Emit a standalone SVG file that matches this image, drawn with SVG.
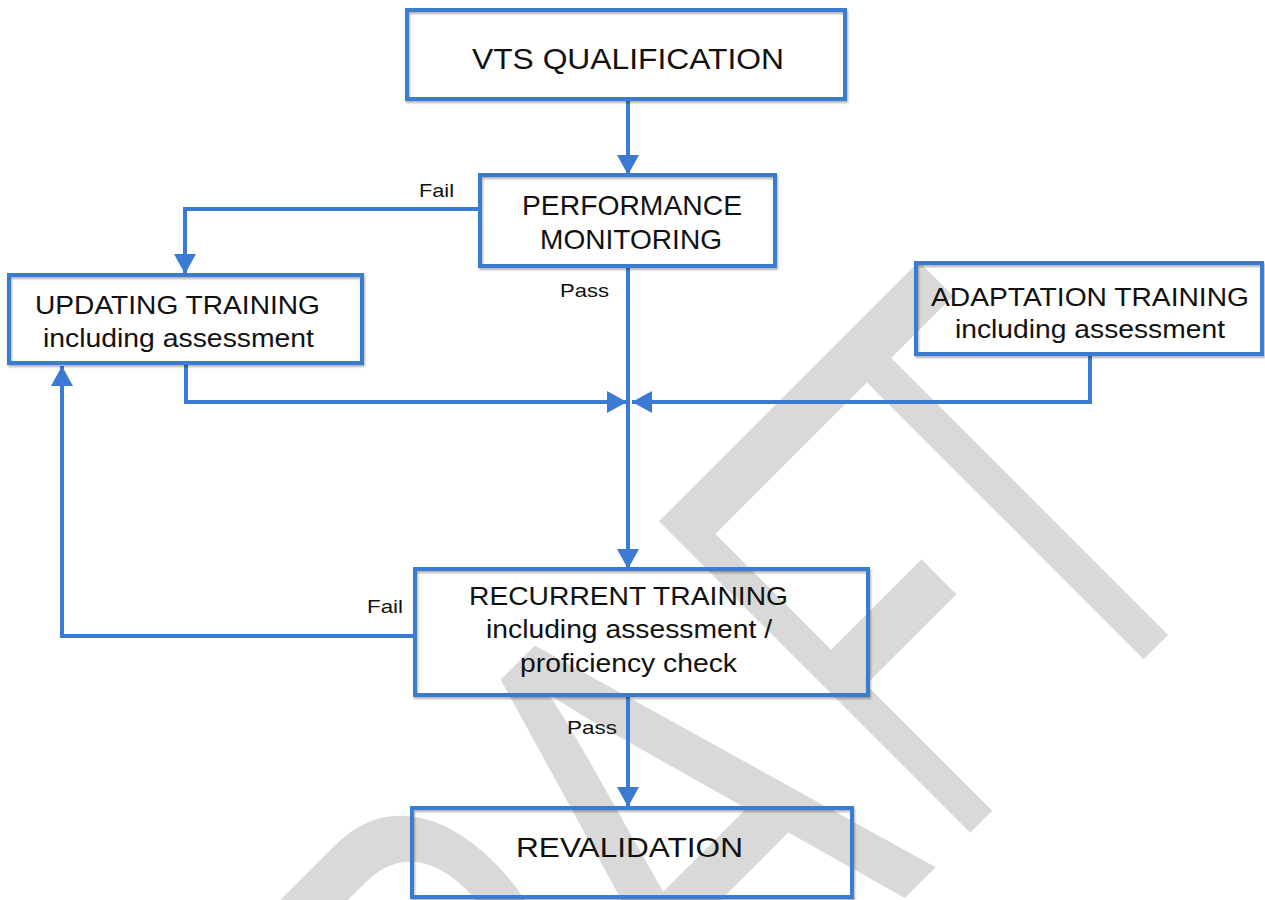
<svg xmlns="http://www.w3.org/2000/svg" width="1265" height="900" viewBox="0 0 1265 900">
<style>
.box{fill:none;stroke:#3b7bd3;stroke-width:4;filter:url(#sh)}
.con{fill:none;stroke:#3b7bd3;stroke-width:4;marker-end:url(#ah)}
.t{font-family:"Liberation Sans",Arial,sans-serif;fill:#111;text-anchor:middle}
.lbl{font-family:"Liberation Sans",Arial,sans-serif;fill:#111;text-anchor:middle;font-size:19px}
.wm{font-family:"Liberation Sans",Arial,sans-serif;fill:#d9d9d9;font-size:640px}
</style>
<defs>
<marker id="ah" viewBox="0 0 20 22" refX="20" refY="11" markerWidth="20" markerHeight="22" orient="auto" markerUnits="userSpaceOnUse">
<path d="M0,0 L20,11 L0,22 Z" fill="#3b7bd3"/>
</marker>
<filter id="sh" x="-5%" y="-5%" width="110%" height="120%">
<feDropShadow dx="1" dy="2" stdDeviation="1.2" flood-color="#000" flood-opacity="0.3"/>
</filter>
</defs>
<rect width="1265" height="900" fill="#fff"/>
<g id="watermark">
<text class="wm" transform="translate(314.6,1488.4) rotate(-45) scale(0.65,1)">D</text>
<text class="wm" transform="translate(526.7,1276.3) rotate(-45) scale(0.65,1)">R</text>
<text class="wm" transform="translate(720.5,1082.5) rotate(-45) scale(0.715,1)">A</text>
<text class="wm" transform="translate(951,852) rotate(-45) scale(0.52,1)">F</text>
<text class="wm" transform="translate(1075.8,727.2) rotate(-45) scale(0.58,1)">T</text>
</g>
<g id="connectors">
<path class="con" d="M628,100 V175"/>
<path class="con" d="M480,209 H185 V274"/>
<path class="con" d="M628,266 V569"/>
<path class="con" d="M186,363 V402 H627"/>
<path class="con" d="M1090,354 V402 H632"/>
<path class="con" d="M415,636 H62 V366"/>
<path class="con" d="M628,695 V807"/>
<text class="lbl" x="436.5" y="197" textLength="35" lengthAdjust="spacingAndGlyphs">Fail</text>
<text class="lbl" x="584.5" y="297" textLength="49" lengthAdjust="spacingAndGlyphs">Pass</text>
<text class="lbl" x="385" y="613" textLength="36" lengthAdjust="spacingAndGlyphs">Fail</text>
<text class="lbl" x="592" y="734" textLength="50" lengthAdjust="spacingAndGlyphs">Pass</text>
</g>
<g id="vts">
<rect class="box" x="407" y="10" width="438" height="89"/>
<text class="t" x="628" y="69" font-size="30" textLength="312" lengthAdjust="spacingAndGlyphs">VTS QUALIFICATION</text>
</g>
<g id="performance">
<rect class="box" x="480" y="175" width="295" height="91"/>
<text class="t" x="632" y="215" font-size="28" textLength="220" lengthAdjust="spacingAndGlyphs">PERFORMANCE</text>
<text class="t" x="631" y="249" font-size="28" textLength="182" lengthAdjust="spacingAndGlyphs">MONITORING</text>
</g>
<g id="updating">
<rect class="box" x="9" y="275" width="353" height="88"/>
<text class="t" x="177.5" y="314" font-size="25" textLength="285" lengthAdjust="spacingAndGlyphs">UPDATING TRAINING</text>
<text class="t" x="178.5" y="347" font-size="25" textLength="271" lengthAdjust="spacingAndGlyphs">including assessment</text>
</g>
<g id="adaptation">
<rect class="box" x="916" y="263" width="346" height="91"/>
<text class="t" x="1090" y="306" font-size="26" textLength="318" lengthAdjust="spacingAndGlyphs">ADAPTATION TRAINING</text>
<text class="t" x="1090" y="338" font-size="26" textLength="270" lengthAdjust="spacingAndGlyphs">including assessment</text>
</g>
<g id="recurrent">
<rect class="box" x="415" y="569" width="453" height="126"/>
<text class="t" x="628.5" y="605" font-size="25" textLength="319" lengthAdjust="spacingAndGlyphs">RECURRENT TRAINING</text>
<text class="t" x="629" y="638" font-size="25" textLength="286" lengthAdjust="spacingAndGlyphs">including assessment /</text>
<text class="t" x="628.5" y="672" font-size="25" textLength="217" lengthAdjust="spacingAndGlyphs">proficiency check</text>
</g>
<g id="revalidation">
<rect class="box" x="412" y="808" width="440" height="89"/>
<text class="t" x="629.5" y="857" font-size="28" textLength="227" lengthAdjust="spacingAndGlyphs">REVALIDATION</text>
</g>
</svg>
